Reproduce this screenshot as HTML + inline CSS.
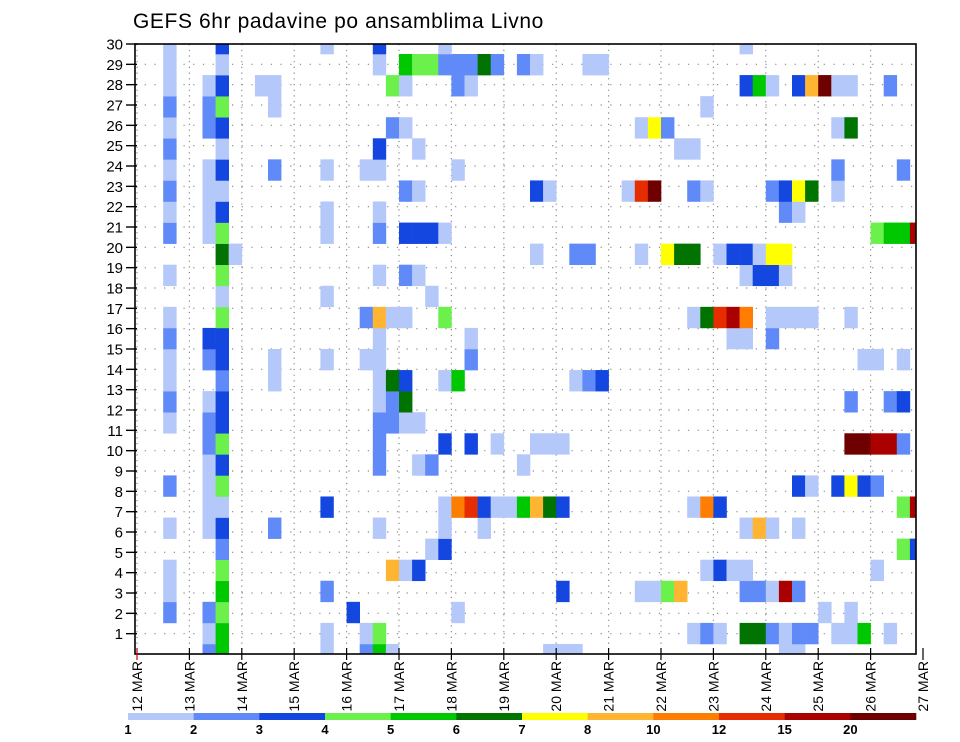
<!DOCTYPE html>
<html>
<head>
<meta charset="utf-8">
<style>
  html,body{margin:0;padding:0;background:#fff;}
  body{width:960px;height:742px;overflow:hidden;font-family:"Liberation Sans",sans-serif;}
  svg{display:block;}
</style>
</head>
<body>
<svg id="chart" width="960" height="742" viewBox="0 0 960 742" xmlns="http://www.w3.org/2000/svg">
  <text x="133" y="28" font-family="Liberation Sans, sans-serif" font-size="21" fill="#000" letter-spacing="0.6">GEFS 6hr padavine po ansamblima Livno</text>
  <defs>
    <clipPath id="plotClip"><rect x="135" y="44" width="781" height="610"/></clipPath>
  </defs>
  <g id="grid"></g>
  <g id="cells" clip-path="url(#plotClip)"></g>
  <rect x="135" y="44" width="781" height="610" fill="none" stroke="#000" stroke-width="1.6"/>
  <g id="yaxis"></g>
  <g id="xaxis"></g>
  <g id="colorbar"></g>
</svg>
<script>
// ---- data ----
const dayLabels = ["12 MAR","13 MAR","14 MAR","15 MAR","16 MAR","17 MAR","18 MAR","19 MAR","20 MAR","21 MAR","22 MAR","23 MAR","24 MAR","25 MAR","26 MAR","27 MAR"];
const memberTicks = [1,2,3,4,5,6,7,8,9,10,11,12,13,14,15,16,17,18,19,20,21,22,23,24,25,26,27,28,29,30];
const levelLabels = ["1","2","3","4","5","6","7","8","10","12","15","20"];
const levelColors = ["#b4c8fa","#5f8af7","#1446e0","#6cf04c","#00c800","#007300","#ffff00","#ffb432","#ff7d00","#e62d00","#aa0000","#6e0000"];
// member index -> "column:level" pairs (column = 6-hour step, level = colour class 1..12)
const memberRows = {
  29:"2:1,6:3,14:1,18:3,23:1,46:1",
  28:"2:1,6:1,18:1,20:5,21:4,22:4,23:2,24:2,25:2,26:6,27:2,29:2,30:1,34:1,35:1",
  27:"2:1,5:1,6:3,9:1,10:1,19:4,20:1,24:2,25:1,46:3,47:5,48:1,50:3,51:8,52:12,53:1,54:1,57:2",
  26:"2:2,5:2,6:4,10:1,43:1",
  25:"2:1,5:2,6:3,19:2,20:1,38:1,39:7,40:2,53:1,54:6",
  24:"2:2,6:1,18:3,21:1,41:1,42:1",
  23:"2:1,5:1,6:3,10:2,14:1,17:1,18:1,24:1,53:2,58:2",
  22:"2:2,5:1,6:1,20:2,21:1,30:3,31:1,37:1,38:10,39:12,42:2,43:1,48:2,49:3,50:7,51:6,53:1",
  21:"2:1,5:1,6:3,14:1,18:1,49:2,50:1",
  20:"2:2,5:1,6:4,14:1,18:2,20:3,21:3,22:3,23:1,56:4,57:5,58:5,59:11",
  19:"6:6,7:1,30:1,33:2,34:2,38:1,40:7,41:6,42:6,44:1,45:3,46:3,47:1,48:7,49:7",
  18:"2:1,6:4,18:1,20:2,21:1,46:1,47:3,48:3,49:1",
  17:"6:1,14:1,22:1",
  16:"2:1,6:4,17:2,18:8,19:1,20:1,23:4,42:1,43:6,44:10,45:11,46:9,48:1,49:1,50:1,51:1,54:1",
  15:"2:2,5:3,6:3,18:1,25:1,45:1,46:1,48:2",
  14:"2:1,5:2,6:3,10:1,14:1,17:1,18:1,25:2,55:1,56:1,58:1",
  13:"2:1,6:2,10:1,18:1,19:6,20:3,23:1,24:5,33:1,34:2,35:3",
  12:"2:2,5:1,6:3,18:1,19:2,20:6,54:2,57:2,58:3",
  11:"2:1,5:2,6:3,18:2,19:2,20:1,21:1",
  10:"5:2,6:4,18:2,23:3,25:3,27:1,30:1,31:1,32:1,54:12,55:12,56:11,57:11,58:2",
  9:"5:1,6:3,18:2,21:1,22:2,29:1",
  8:"2:2,5:1,6:4,50:3,51:1,53:3,54:7,55:3,56:2",
  7:"5:1,6:1,14:3,23:1,24:9,25:10,26:3,27:1,28:1,29:5,30:8,31:6,32:3,42:1,43:9,44:3,58:4,59:11",
  6:"2:1,5:1,6:3,10:2,18:1,23:1,26:1,46:1,47:8,48:1,50:1",
  5:"6:2,22:1,23:3,58:4,59:3",
  4:"2:1,6:4,19:8,20:1,21:3,43:1,44:3,45:1,46:1,56:1",
  3:"2:1,6:5,14:2,32:3,38:1,39:1,40:4,41:8,46:2,47:2,48:1,49:11,50:2",
  2:"2:2,5:2,6:4,16:3,24:1,52:1,54:1",
  1:"5:1,6:5,14:1,17:1,18:4,42:1,43:2,44:1,46:6,47:6,48:2,49:1,50:2,51:2,53:1,54:1,55:5,57:1",
  0:"5:2,6:5,14:1,17:2,18:5,19:1,31:1,32:1,33:1,49:1,50:1"
};

// ---- scales ----
const NS = "http://www.w3.org/2000/svg";
const PL = 135, PR = 916, PT = 44, PB = 654;
const X0 = 137, CELL_W = 13.1, DAY_W = CELL_W * 4;
const CELL_H = 21.07;
function xCell(col){ return X0 + col * CELL_W; }
function xDay(d){ return X0 + d * DAY_W; }
function yCellCenter(m){ return 654.5 - m * CELL_H; }
function yTick(v){ return PB - v * (PB - PT) / 30; }

function mk(tag, attrs, parent){
  const e = document.createElementNS(NS, tag);
  for (const k in attrs) e.setAttribute(k, attrs[k]);
  parent.appendChild(e);
  return e;
}

// grid
const grid = document.getElementById('grid');
memberTicks.forEach(v => {
  const ln = mk('line', {x1:PL, x2:PR, y1:yTick(v), y2:yTick(v), stroke:'#888', 'stroke-width':1.2, 'stroke-dasharray':'1.2,8.5'}, grid);
  
  
});
dayLabels.forEach((lab, d) => {
  const x = xDay(d);
  if (x <= PL + 1 || x >= PR) return;
  const ln = mk('line', {x1:x, x2:x, y1:PT, y2:PB, stroke:'#888', 'stroke-width':1.2, 'stroke-dasharray':'1.2,4.5'}, grid);
  
  
});

// cells
const cellsG = document.getElementById('cells');
Object.keys(memberRows).forEach(key => {
  const m = Number(key);
  memberRows[key].split(',').forEach(pair => {
    const [c, lv] = pair.split(':').map(Number);
    const r = mk('rect', {x: xCell(c), y: yCellCenter(m) - CELL_H/2, width: CELL_W + 0.3, height: CELL_H + 0.3, fill: levelColors[lv-1]}, cellsG);
    
    
  });
});

// y axis
const yax = document.getElementById('yaxis');
memberTicks.forEach(v => {
  const y = yTick(v);
  const t = mk('line', {x1:126, x2:137, y1:y, y2:y, stroke:'#000', 'stroke-width':1.4}, yax);
  
  
  const tx = mk('text', {x:123, y:y + 5.5, 'text-anchor':'end', 'font-size':15, 'font-family':'Liberation Sans, sans-serif', fill:'#000'}, yax);
  tx.textContent = String(v);
  
  
});

// x axis
const xax = document.getElementById('xaxis');
dayLabels.forEach((lab, d) => {
  const x = xDay(d);
  const t = mk('line', {x1:x, x2:x, y1:PB - 6, y2:PB + 6, stroke: d === 0 ? '#c00' : '#000', 'stroke-width':1.2}, xax);
  
  
  const tx = mk('text', {x:0, y:0, 'text-anchor':'end', 'font-size':14, 'font-family':'Liberation Sans, sans-serif', fill:'#000', transform:`translate(${x + 5},${PB + 7}) rotate(-90)`}, xax);
  tx.textContent = lab;
  
  
});

// colorbar
const cb = document.getElementById('colorbar');
const CB_L = 128, CB_R = 916, CB_Y = 713, CB_H = 7;
const segW = (CB_R - CB_L) / levelColors.length;
levelColors.forEach((col, i) => {
  const r = mk('rect', {x: CB_L + i*segW, y: CB_Y, width: segW + 0.3, height: CB_H, fill: col}, cb);
  
  
});
levelLabels.forEach((lab, i) => {
  const tx = mk('text', {x: CB_L + i*segW, y: 734, 'text-anchor':'middle', 'font-size':13, 'font-weight':'bold', 'font-family':'Liberation Sans, sans-serif', fill:'#000'}, cb);
  tx.textContent = lab;
  
  
});
</script>
</body>
</html>
